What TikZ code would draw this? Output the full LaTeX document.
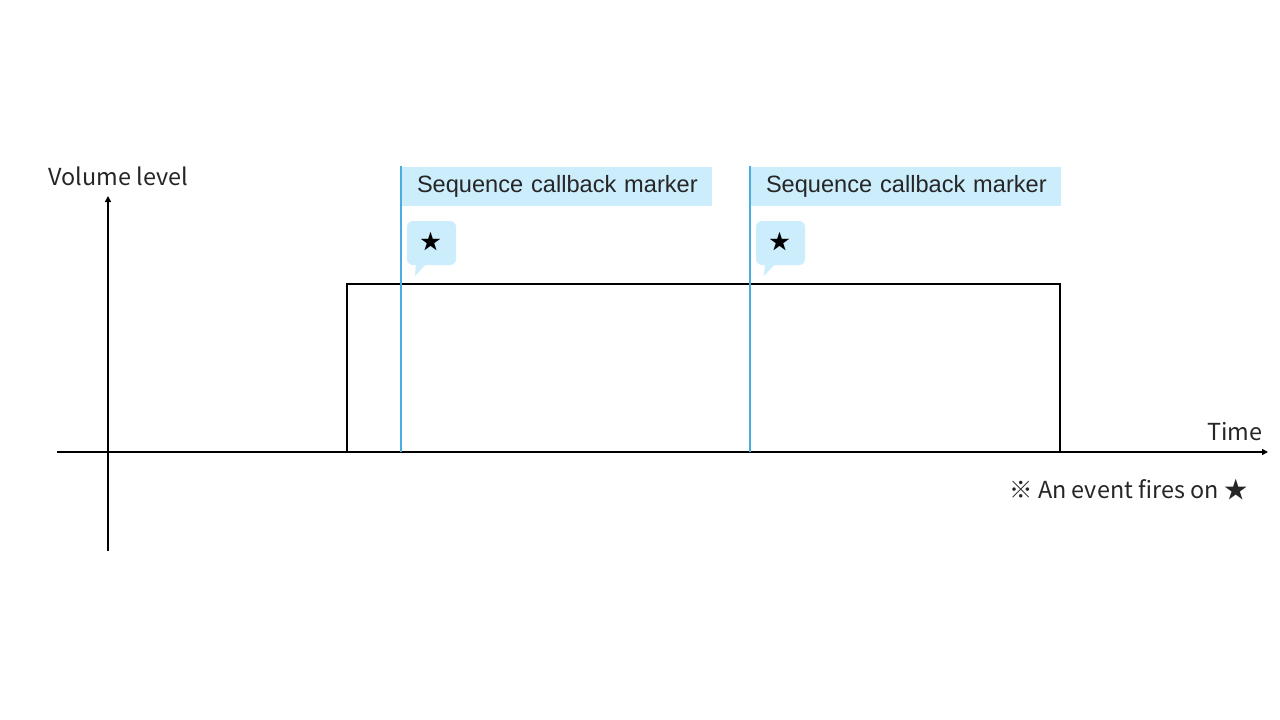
\documentclass[tikz,border=0pt]{standalone}
\usepackage{fontspec}
\setmainfont{Liberation Sans}
\newfontfamily\jpfont{Noto Sans CJK JP}
\usetikzlibrary{arrows.meta,positioning}

\definecolor{markerline}{RGB}{75,172,226}
\definecolor{markerfill}{RGB}{204,237,251}
\tikzset{
  axis/.style={line width=1.6pt, -{Triangle[length=6pt,width=6pt]}},
  pulse/.style={line width=1.8pt, black},
  markerrule/.style={line width=1.6pt, markerline},
  markerlabel/.style={fill=markerfill, anchor=north west, minimum width=310pt, minimum height=39pt,
    inner sep=0pt, text=black!85, font=\fontsize{23.6}{27}\selectfont, align=left, text width=310pt},
  axislabel/.style={font=\jpfont\fontsize{23.4}{28}\selectfont, text=black!85},
  bubble/.style={fill=markerfill, rounded corners=6pt},
  starmark/.style={font=\jpfont\fontsize{21}{25}\selectfont}
}

\begin{document}
\begin{tikzpicture}[x=1pt, y=-1pt]
    \useasboundingbox[fill=white] (0,0) rectangle (1280,720);

    % Axes
    \coordinate (tstart) at (57,452);
    \coordinate (tend) at (1268,452);
    \coordinate (vstart) at (108,551);
    \coordinate (vend) at (108,196);
    \draw[axis] (tstart) -- (tend);
    \draw[axis] (vstart) -- (vend);
    \node[axislabel, anchor=base west] (vlabel) at (45,185) {Volume level};
    \node[axislabel, anchor=base east] (tlabel) at (1266,440) {Time};
    \node[axislabel, anchor=base east] (note) at (1251,498) {※ An event fires on ★};

    % Volume pulse
    \coordinate (rise) at (347,452);
    \coordinate (fall) at (1060,452);
    \draw[pulse] (rise) -- (347,284) -- (1060,284) -- (fall);

    % Markers
    \foreach \name/\mx in {first/401, second/750} {
        \draw[markerrule] (\mx,166) coordinate (\name top) -- (\mx,452) coordinate (\name bottom);
        \node[markerlabel] (\name label) at (\mx+0.8,167) {\hspace{15pt}Sequence callback marker};
        \fill[markerfill] (\mx+15,262) -- (\mx+14,276) -- (\mx+27,262) -- cycle;
        \fill[bubble] (\mx+6,221) rectangle (\mx+55,265);
        \node[starmark] (\name star) at (\mx+30,242) {★};
    }
\end{tikzpicture}
\end{document}
